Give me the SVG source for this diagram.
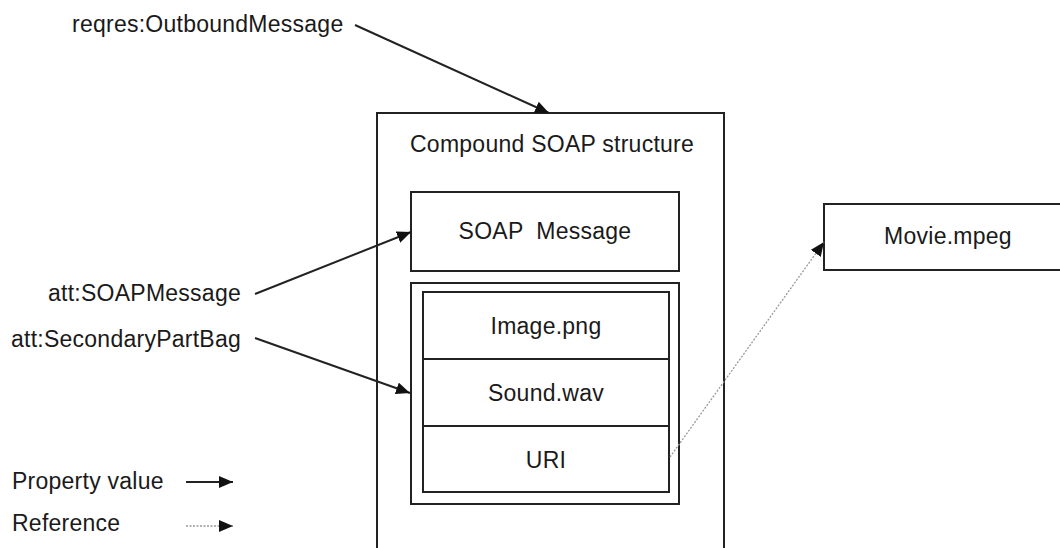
<svg xmlns="http://www.w3.org/2000/svg" width="1060" height="548" viewBox="0 0 1060 548">
<style>
text{font-family:"Liberation Sans",Arial,sans-serif;font-size:23px;fill:#1a1a1a;letter-spacing:0.25px}
.box{fill:none;stroke:#222;stroke-width:2}
.c{text-anchor:middle}
.e{text-anchor:end}
.pv{stroke:#222;stroke-width:2;fill:none;marker-end:url(#ah)}
.ref{stroke:#999;stroke-width:1.3;stroke-dasharray:2 1.5;fill:none;marker-end:url(#ah)}
</style>
<defs>
<marker id="ah" markerUnits="userSpaceOnUse" markerWidth="15" markerHeight="13" refX="14" refY="6" orient="auto">
<path d="M0,0 L14,6 L0,12 Z" fill="#111"/>
</marker>
</defs>
<rect width="1060" height="548" fill="#fff"/>
<g id="compound">
<rect class="box" x="377" y="113" width="347" height="460"/>
<text x="410" y="152">Compound SOAP structure</text>
</g>
<g id="soapmessage">
<rect class="box" x="411" y="192" width="268" height="79"/>
<text class="c" x="545" y="239" xml:space="preserve">SOAP  Message</text>
</g>
<g id="partbag">
<rect class="box" x="411" y="283" width="268" height="221"/>
<rect class="box" x="423" y="292" width="246" height="200"/>
<line class="box" x1="423" y1="359" x2="669" y2="359"/>
<line class="box" x1="423" y1="426" x2="669" y2="426"/>
</g>
<g id="image"><text class="c" x="546" y="334">Image.png</text></g>
<g id="sound"><text class="c" x="546" y="401">Sound.wav</text></g>
<g id="uri"><text class="c" x="546" y="468">URI</text></g>
<g id="movie">
<rect class="box" x="824" y="204" width="260" height="66"/>
<text class="c" x="948" y="244">Movie.mpeg</text>
</g>
<g id="labels">
<text x="72" y="32">reqres:OutboundMessage</text>
<text class="e" x="241" y="301">att:SOAPMessage</text>
<text class="e" x="241" y="347">att:SecondaryPartBag</text>
<text x="12" y="489">Property value</text>
<text x="12" y="531">Reference</text>
</g>
<g id="connectors">
<line class="pv" x1="355" y1="25" x2="549" y2="113"/>
<line class="pv" x1="255" y1="294" x2="411" y2="232"/>
<line class="pv" x1="255" y1="338" x2="410" y2="393"/>
<line class="ref" x1="670" y1="457" x2="824" y2="242"/>
<line class="pv" x1="186" y1="482" x2="233" y2="482"/>
<line class="ref" x1="186" y1="526" x2="233" y2="526"/>
</g>
</svg>
